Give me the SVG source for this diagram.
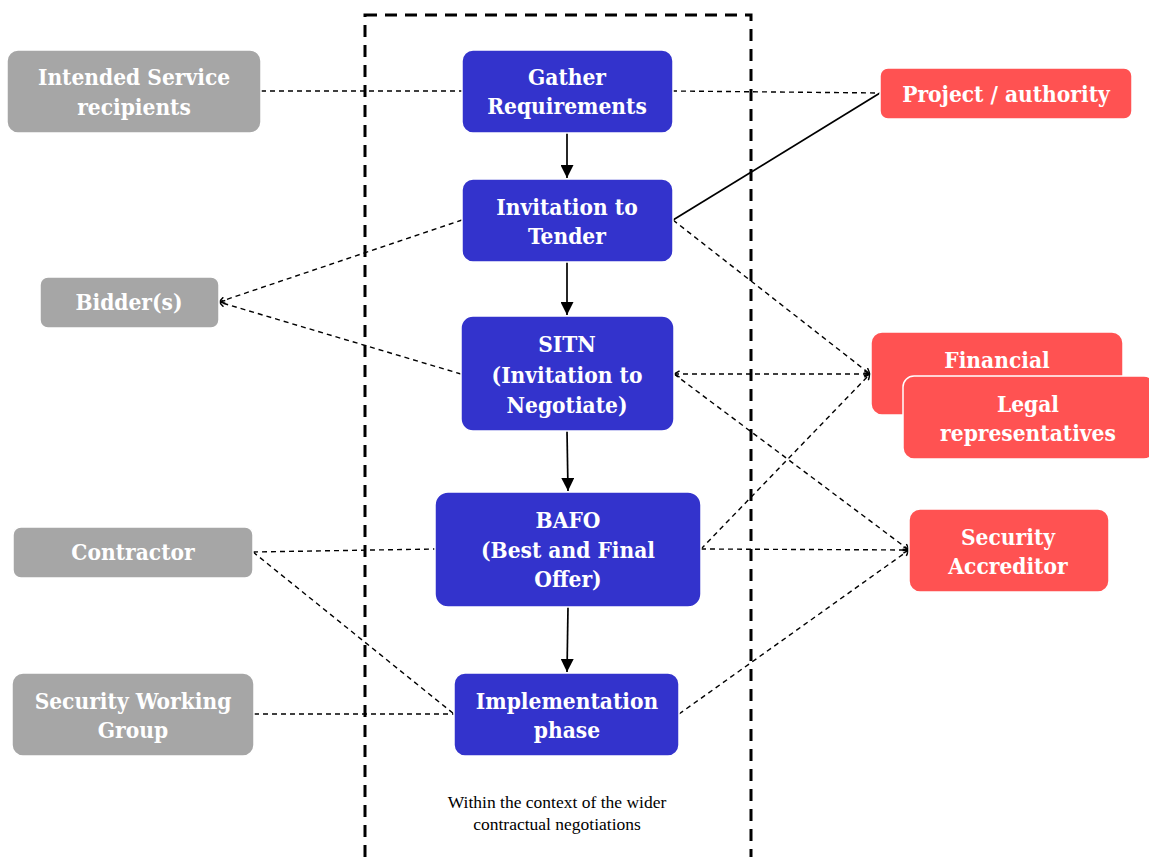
<svg xmlns="http://www.w3.org/2000/svg" width="1149" height="857" viewBox="0 0 1149 857">
<defs>
<style>
.blue{fill:#3333CC;stroke:#ffffff;stroke-width:1.5}
.gray{fill:#A6A6A6;stroke:#ffffff;stroke-width:1.5}
.red{fill:#FF5252;stroke:#ffffff;stroke-width:1.5}
.t{font-family:"DejaVu Serif Condensed","DejaVu Serif",serif;font-weight:bold;font-size:22.5px;fill:#ffffff;text-anchor:middle}
.d{fill:none;stroke:#000;stroke-width:1.4;stroke-dasharray:5 4}
.s{fill:none;stroke:#000;stroke-width:1.7}
.note{font-family:"Liberation Serif",serif;font-size:17.5px;fill:#000;text-anchor:middle}
</style>
<marker id="ah" viewBox="0 0 10 10" refX="10" refY="5" markerWidth="13" markerHeight="13" markerUnits="userSpaceOnUse" orient="auto">
<path d="M0,0 L10,5 L0,10 Z" fill="#000"/>
</marker>
<marker id="ch" viewBox="0 0 10 10" refX="9" refY="5" markerWidth="8" markerHeight="8" markerUnits="userSpaceOnUse" orient="auto-start-reverse">
<path d="M2,1 L9,5 L2,9" fill="none" stroke="#000" stroke-width="1.8"/>
</marker>
</defs>
<rect width="1149" height="857" fill="#ffffff"/>
<rect x="365" y="15" width="386" height="845" fill="none" stroke="#000" stroke-width="3" stroke-dasharray="12 8"/>
<g id="connectors">
<line class="s" x1="567" y1="132" x2="567" y2="178" marker-end="url(#ah)" stroke-width="2.6"/>
<line class="s" x1="567" y1="262" x2="567" y2="315" marker-end="url(#ah)"/>
<line class="s" x1="567" y1="431" x2="568" y2="491" marker-end="url(#ah)"/>
<line class="s" x1="568" y1="607" x2="567" y2="672" marker-end="url(#ah)"/>
<line class="s" x1="673" y1="220" x2="880" y2="93"/>
<line class="d" x1="261" y1="91" x2="462" y2="91"/>
<line class="d" x1="672" y1="91" x2="880" y2="93"/>
<line class="d" x1="462" y1="220" x2="219" y2="302" marker-end="url(#ch)"/>
<line class="d" x1="461" y1="374" x2="219" y2="302" marker-end="url(#ch)"/>
<line class="d" x1="673" y1="220" x2="870" y2="374" marker-end="url(#ch)"/>
<line class="d" x1="674" y1="374" x2="870" y2="374" marker-start="url(#ch)" marker-end="url(#ch)"/>
<line class="d" x1="674" y1="374" x2="909" y2="550" marker-end="url(#ch)"/>
<line class="d" x1="701" y1="549" x2="870" y2="374" marker-end="url(#ch)"/>
<line class="d" x1="701" y1="549" x2="909" y2="550" marker-end="url(#ch)"/>
<line class="d" x1="679" y1="714" x2="909" y2="550" marker-end="url(#ch)"/>
<line class="d" x1="253" y1="552" x2="435" y2="549"/>
<line class="d" x1="253" y1="552" x2="454" y2="714"/>
<line class="d" x1="254" y1="714" x2="454" y2="714"/>
</g>
<g id="gather"><rect class="blue" x="462" y="50" width="211" height="83" rx="11"/><text class="t" x="567" y="85">Gather</text><text class="t" x="567" y="114">Requirements</text></g>
<g id="itt"><rect class="blue" x="462" y="179" width="211" height="83" rx="11"/><text class="t" x="567" y="215">Invitation to</text><text class="t" x="567" y="244">Tender</text></g>
<g id="sitn"><rect class="blue" x="461" y="316" width="213" height="115" rx="12"/><text class="t" x="567" y="352">SITN</text><text class="t" x="567" y="383">(Invitation to</text><text class="t" x="567" y="413">Negotiate)</text></g>
<g id="bafo"><rect class="blue" x="435" y="492" width="266" height="115" rx="13"/><text class="t" x="568" y="528">BAFO</text><text class="t" x="568" y="558">(Best and Final</text><text class="t" x="568" y="587">Offer)</text></g>
<g id="impl"><rect class="blue" x="454" y="673" width="225" height="83" rx="11"/><text class="t" x="567" y="709">Implementation</text><text class="t" x="567" y="738">phase</text></g>
<g id="recipients"><rect class="gray" x="7" y="50" width="254" height="83" rx="11"/><text class="t" x="134" y="85">Intended Service</text><text class="t" x="134" y="115">recipients</text></g>
<g id="bidders"><rect class="gray" x="40" y="277" width="179" height="51" rx="8"/><text class="t" x="129" y="310">Bidder(s)</text></g>
<g id="contractor"><rect class="gray" x="13" y="527" width="240" height="51" rx="8"/><text class="t" x="133" y="560">Contractor</text></g>
<g id="swg"><rect class="gray" x="12" y="673" width="242" height="83" rx="11"/><text class="t" x="133" y="709">Security Working</text><text class="t" x="133" y="738">Group</text></g>
<g id="project"><rect class="red" x="880" y="68" width="252" height="51" rx="8"/><text class="t" x="1006" y="102">Project / authority</text></g>
<g id="financial"><rect class="red" x="871" y="332" width="252" height="83" rx="11"/><text class="t" x="997" y="368">Financial</text></g>
<g id="legal"><rect class="red" x="903" y="376" width="252" height="83" rx="11"/><text class="t" x="1028" y="412">Legal</text><text class="t" x="1028" y="441">representatives</text></g>
<g id="accreditor"><rect class="red" x="909" y="509" width="200" height="83" rx="11"/><text class="t" x="1008" y="545">Security</text><text class="t" x="1008" y="574">Accreditor</text></g>
<g id="note"><text class="note" x="557" y="808">Within the context of the wider</text><text class="note" x="557" y="830">contractual negotiations</text></g>
</svg>
